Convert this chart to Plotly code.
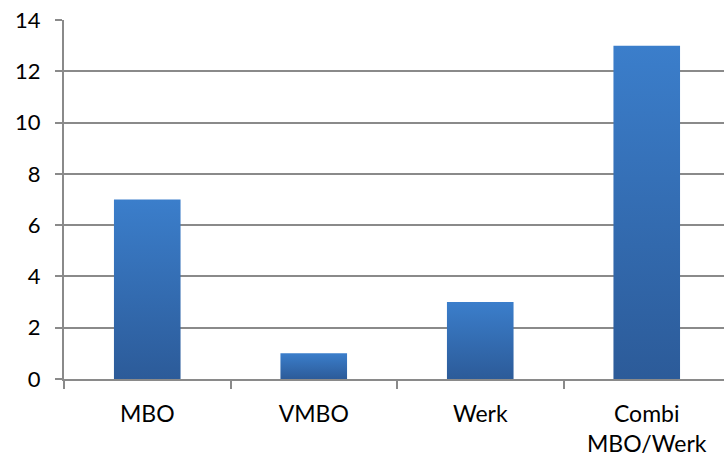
import plotly.graph_objects as go

categories = ["MBO", "VMBO", "Werk", "Combi<br>MBO/Werk"]
values = [7, 1, 3, 13]
y_ticks = [0, 2, 4, 6, 8, 10, 12, 14]

TOP = "rgb(59,126,203)"
BOTTOM = "rgb(44,91,153)"
AXIS = "#8a8a8a"
half = 0.20

fig = go.Figure()
for i, v in enumerate(values):
    fig.add_trace(go.Scatter(
        x=[i - half, i + half, i + half, i - half, i - half],
        y=[0, 0, v, v, 0],
        mode="lines",
        line=dict(width=0),
        fill="toself",
        fillgradient=dict(type="vertical", colorscale=[[0, BOTTOM], [1, TOP]]),
        hoverinfo="skip",
        showlegend=False,
    ))

fig.update_layout(
    width=724, height=460,
    margin=dict(l=64, r=0, t=20, b=81),
    paper_bgcolor="white", plot_bgcolor="white",
    font=dict(family="Lato", color="black"),
    showlegend=False,
)
fig.update_xaxes(
    range=[-0.5, 3.464],
    automargin=False,
    tickmode="array", tickvals=list(range(len(categories))), ticktext=categories,
    ticks="", showgrid=False, zeroline=False,
    showline=True, linecolor=AXIS, linewidth=2,
    tickfont=dict(size=23, family="Lato", color="black"),
    ticklabelstandoff=13,
    minor=dict(tickmode="array", tickvals=[-0.5, 0.5, 1.5, 2.5],
               ticks="outside", ticklen=8, tickwidth=2, tickcolor=AXIS, showgrid=False),
)
fig.update_yaxes(
    range=[0, 14],
    automargin=False,
    tickmode="array", tickvals=y_ticks,
    ticks="outside", ticklen=7, tickwidth=2, tickcolor=AXIS,
    showgrid=True, gridcolor=AXIS, gridwidth=2,
    zeroline=False,
    showline=True, linecolor=AXIS, linewidth=2,
    tickfont=dict(size=22, family="Lato", color="black"),
    ticklabelstandoff=10,
)
fig.write_html("out.html", config={"displayModeBar": False},
               post_script="document.body.style.margin='0';document.body.style.overflow='hidden';")
